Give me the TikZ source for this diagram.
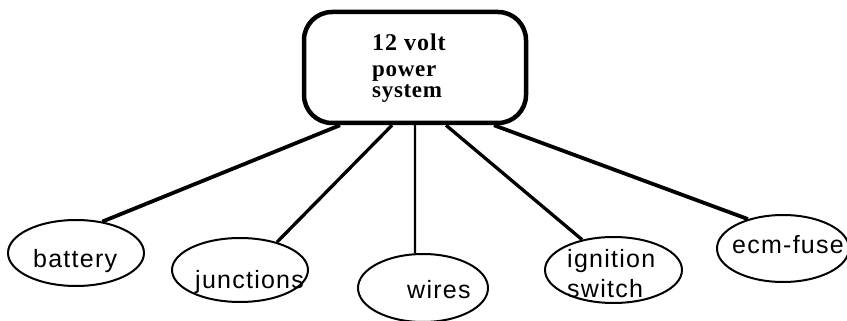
\documentclass[tikz,border=0pt]{standalone}
\usepackage{fontspec}
\usetikzlibrary{shapes.geometric,calc}
\newfontfamily\labfont[LetterSpace=5]{Liberation Sans}
\newfontfamily\headfont[LetterSpace=4]{Liberation Serif}
\newfontfamily\headfontsp[LetterSpace=3]{Liberation Serif}
\begin{document}
\begin{tikzpicture}[x=1pt,y=-1pt,
  leaf/.style={draw,ellipse,line width=2pt,inner sep=0pt},
  lab/.style={anchor=base west,inner sep=0pt,font=\labfont\fontsize{25}{25}\selectfont},
  head/.style={anchor=base west,inner sep=0pt},
  edge/.style={line width=3pt}]
\useasboundingbox (0,0) rectangle (847,321);
\node[draw,line width=4.5pt,rounded corners=28pt,minimum width=222pt,minimum height=111pt,inner sep=0pt] (sys) at (415,67.5) {};
\node[head,font=\headfont\bfseries\fontsize{24}{24}\selectfont] (t1) at (372,51) {12 volt};
\node[head,font=\headfontsp\bfseries\fontsize{23}{23}\selectfont] (t2) at (372,76.5) {power};
\node[head,font=\headfontsp\bfseries\fontsize{23}{23}\selectfont] (t3) at (372,98) {system};
% leaves
\node[leaf,minimum width=136pt,minimum height=66pt] (bat) at (76,253) {};
\node[leaf,minimum width=136pt,minimum height=64pt] (jun) at (240,270) {};
\node[leaf,minimum width=130pt,minimum height=68pt] (wir) at (423,288) {};
\node[leaf,minimum width=137pt,minimum height=66pt] (ign) at (613.5,270) {};
\node[leaf,minimum width=132pt,minimum height=67pt] (ecm) at (783,248.5) {};
% labels
\node[lab] (lbat) at (33,267) {battery};
\node[lab] (ljun) at (195,288) {junctions};
\node[lab] (lwir) at (407,298) {wires};
\node[lab] (lign1) at (567,267) {ignition};
\node[lab] (lign2) at (567,297) {switch};
\node[lab] (lecm) at (732,253) {ecm-fuse};
% connectors
\draw[edge,line width=3.8pt] ($(sys.south)+(-75,0)$) -- (bat.50);
\draw[edge,line width=3.3pt] ($(sys.south)+(-23,0)$) -- (jun.37);
\draw[edge,line width=2.3pt] ($(sys.south)+(0,0)$) -- (wir.103);
\draw[edge,line width=3.3pt] ($(sys.south)+(31,0)$) -- (ign.136);
\draw[edge,line width=3.8pt] ($(sys.south)+(79,0)$) -- (ecm.140);
\end{tikzpicture}
\end{document}
